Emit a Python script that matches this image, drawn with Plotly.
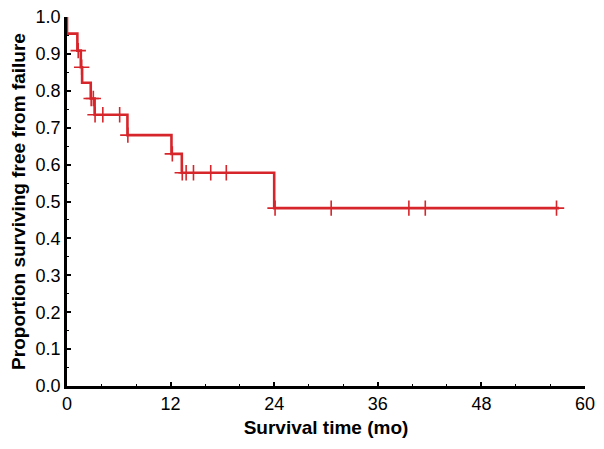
import numpy as np
import plotly.graph_objects as go

# Kaplan-Meier style step curve
step_times = [0.0, 0.0, 1.2, 1.6, 1.75, 2.75, 3.2, 7.0, 12.1, 13.3, 24.0]
step_levels = [1.0, 0.955, 0.909, 0.864, 0.822, 0.779, 0.735, 0.680, 0.629, 0.578, 0.482]
end_time = 57.0

# censored observations (tick marks)
censor_times = [1.3, 1.7, 2.8, 3.05, 3.25, 4.15, 6.1, 7.05, 12.2, 13.35, 13.8,
                14.65, 16.65, 18.45, 24.1, 30.6, 39.6, 41.5, 56.7]

x_tick_vals = [0, 12, 24, 36, 48, 60]
y_tick_vals = [0.0, 0.1, 0.2, 0.3, 0.4, 0.5, 0.6, 0.7, 0.8, 0.9, 1.0]
y_tick_text = [f"{v:.1f}" for v in y_tick_vals]

red = "#d7262b"

line_x = step_times + [end_time]
line_y = step_levels + [step_levels[-1]]

st = np.array(step_times)
sl = np.array(step_levels)
censor_y = [float(sl[np.searchsorted(st, t, side="right") - 1]) for t in censor_times]

fig = go.Figure()
fig.add_trace(go.Scatter(
    x=line_x, y=line_y, mode="lines", line_shape="hv",
    line=dict(color=red, width=2.6), showlegend=False, hoverinfo="skip"))
fig.add_trace(go.Scatter(
    x=censor_times, y=censor_y, mode="markers",
    marker=dict(symbol="cross-thin", size=11, line=dict(color=red, width=1.6)),
    showlegend=False, cliponaxis=False))

font_family = "Liberation Sans, Arial, sans-serif"

# page body has an 8px margin, so the figure is sized/positioned to compensate
fig.update_layout(
    width=588, height=433,
    margin=dict(l=59, r=11, t=9, b=55),
    paper_bgcolor="white", plot_bgcolor="white",
    font=dict(family=font_family, color="black", size=18),
    xaxis=dict(
        range=[0, 60], tickvals=x_tick_vals, ticktext=[str(v) for v in x_tick_vals],
        automargin=False, ticklabeloverflow="allow",
        showgrid=False, zeroline=False, showline=True, linecolor="black", linewidth=2.5,
        ticks="inside", ticklen=4, tickwidth=1.5, tickcolor="black",
        minor=dict(dtick=4, ticks="inside", ticklen=2.5, tickwidth=1, tickcolor="black"),
        tickfont=dict(size=18),
        title=dict(text="<b>Survival time (mo)</b>", font=dict(size=19), standoff=8),
    ),
    yaxis=dict(
        range=[0, 1.0], tickvals=y_tick_vals, ticktext=y_tick_text,
        automargin=False, ticklabeloverflow="allow",
        showgrid=False, zeroline=False, showline=True, linecolor="black", linewidth=2.5,
        ticks="inside", ticklen=4, tickwidth=1.5, tickcolor="black",
        minor=dict(dtick=0.05, ticks="inside", ticklen=2.5, tickwidth=1, tickcolor="black"),
        tickfont=dict(size=18),
        title=dict(text="<b>Proportion surviving free from failure</b>", font=dict(size=19), standoff=6),
    ),
)

fig.write_html("out.html")
